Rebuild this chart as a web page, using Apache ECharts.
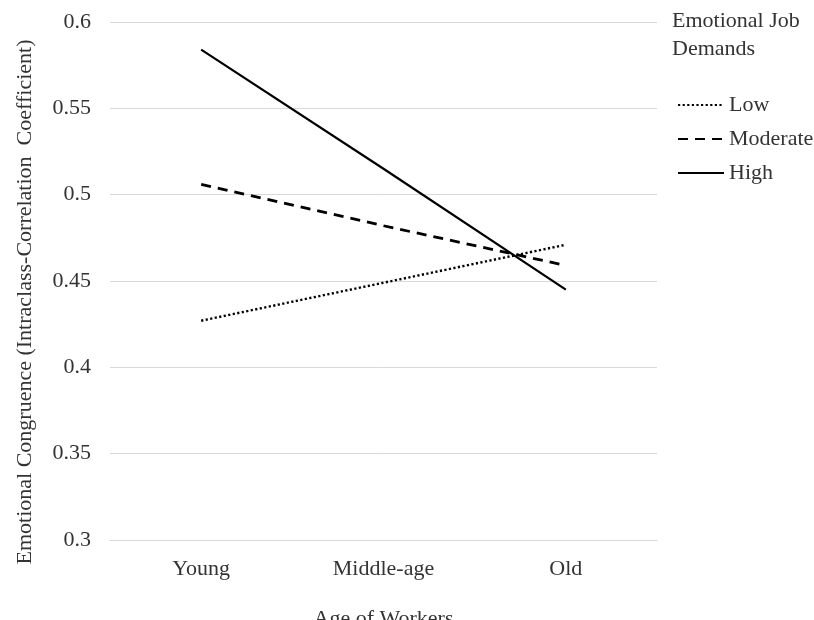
<!DOCTYPE html>
<html>
<head>
<meta charset="utf-8">
<script src="https://cdn.jsdelivr.net/npm/echarts@6/dist/echarts.min.js"></script>
<style>
  html, body { margin: 0; padding: 0; background: #fff; }
  #myChart { width: 814px; height: 620px; }
</style>
</head>
<body>
<div id="myChart"></div>
<script>
// age groups on the x axis
var ageGroups = ['Young', 'Middle-age', 'Old'];
// ICC values, one array per demand level
var lowDemands = [0.427, 0.449, 0.471];
var moderateDemands = [0.506, 0.482, 0.459];
var highDemands = [0.584, 0.515, 0.445];
var seriesNames = ['Low', 'Moderate', 'High'];

var font = 'Liberation Serif';
var textColor = '#333';

var myChart = echarts.init(document.getElementById('myChart'));
myChart.setOption({
    animation: false,
    backgroundColor: '#fff',
    textStyle: { fontFamily: font },
    title: {
        text: 'Emotional Job\nDemands',
        left: 667,
        top: 2,
        textStyle: { fontFamily: font, fontSize: 22, fontWeight: 'normal', color: textColor, lineHeight: 28 }
    },
    legend: {
        data: seriesNames,
        orient: 'vertical',
        left: 672,
        top: 89,
        itemWidth: 46,
        itemHeight: 14,
        itemGap: 12,
        itemStyle: { opacity: 0 },   // hide the dot, keep the line
        textStyle: { fontFamily: font, fontSize: 22, color: textColor }
    },
    grid: { left: 110, right: 157, top: 22, bottom: 80, outerBoundsMode: 'none', containLabel: false },
    xAxis: {
        type: 'category',
        data: ageGroups,
        name: 'Age of Workers',
        nameLocation: 'middle',
        nameGap: 68,
        nameTextStyle: { fontFamily: font, fontSize: 22, color: textColor },
        axisLine: { lineStyle: { color: '#d9d9d9' } },
        axisTick: { show: false },
        axisLabel: { fontFamily: font, fontSize: 22, color: textColor, margin: 18 }
    },
    yAxis: {
        type: 'value',
        min: 0.3,
        max: 0.6,
        interval: 0.05,
        name: 'Emotional Congruence (Intraclass-Correlation  Coefficient)',
        nameLocation: 'middle',
        nameGap: 74,
        nameTextStyle: { fontFamily: font, fontSize: 22, color: textColor, padding: [0, 42, 0, 0] },
        axisLine: { show: false },
        axisTick: { show: false },
        axisLabel: { fontFamily: font, fontSize: 22, color: textColor, margin: 19 },
        splitLine: { lineStyle: { color: '#d9d9d9' } }
    },
    series: [
        {
            name: 'Low',
            type: 'line',
            data: lowDemands,
            symbol: 'none',
            itemStyle: { color: '#000' },
            lineStyle: { color: '#000', width: 2.4, type: [2.2, 2.4] }
        },
        {
            name: 'Moderate',
            type: 'line',
            data: moderateDemands,
            symbol: 'none',
            itemStyle: { color: '#000' },
            lineStyle: { color: '#000', width: 2.8, type: [10, 7] }
        },
        {
            name: 'High',
            type: 'line',
            data: highDemands,
            symbol: 'none',
            itemStyle: { color: '#000' },
            lineStyle: { color: '#000', width: 2.2 }
        }
    ]
});
</script>
</body>
</html>
